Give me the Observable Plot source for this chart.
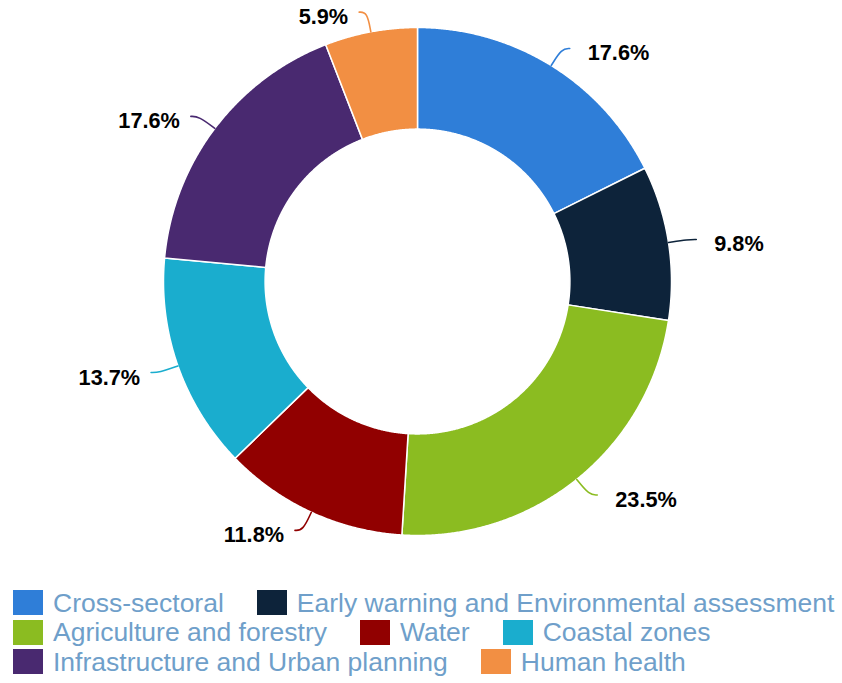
<!DOCTYPE html>
<html><head><meta charset="utf-8">
<script src="https://cdn.jsdelivr.net/npm/d3@7"></script>
<script src="https://cdn.jsdelivr.net/npm/@observablehq/plot@0.6"></script>
<style>
body{margin:0;background:#fff;font-family:"Liberation Sans",Arial,sans-serif;}
#chart svg{display:block;}
#legend{margin-top:18px;padding-left:13px;}
.row{display:flex;align-items:center;height:29.5px;}
.item{display:flex;align-items:center;margin-right:33px;}
.sw{width:30px;height:25px;margin-right:10px;flex:none;}
.lt{font-size:26.5px;color:#6f9fca;white-space:nowrap;line-height:1;}
</style></head><body><div id="chart"></div><div id="legend"></div>
<script>
const categories = ["Cross-sectoral","Early warning and Environmental assessment","Agriculture and forestry","Water","Coastal zones","Infrastructure and Urban planning","Human health"];
const counts = [9,5,12,6,7,9,3];
const colors = ["#2f7ed8","#0d233a","#8bbc21","#910000","#1aadce","#492970","#f28f43"];
const legendRows = [[0,1],[2,3,4],[5,6]];

const W=842,H=570,CX=417,CY=281,R=254,INNER=0.6;
const total=d3.sum(counts);
const arcs=d3.pie().sort(null)(counts);
const pt=(a,r)=>({x:r*Math.sin(a),y:r*Math.cos(a)});

const slicePts=[];
const connPts=[];
const labelsR=[],labelsL=[];
arcs.forEach((arc,i)=>{
  const name=categories[i];
  const a0=arc.startAngle,a1=arc.endAngle;
  const n=Math.max(2,Math.ceil((a1-a0)/0.005));
  for(let k=0;k<=n;k++){const p=pt(a0+(a1-a0)*k/n,1);slicePts.push({name,...p});}
  for(let k=n;k>=0;k--){const p=pt(a0+(a1-a0)*k/n,INNER);slicePts.push({name,...p});}
  const f=pt(a0,1);slicePts.push({name,...f});
  const a=(a0+a1)/2,side=Math.sin(a)>=0?1:-1;
  const e=pt(a,1),el=pt(a,1+20/R),end={x:el.x+side*8/R,y:el.y};
  connPts.push({name,...e},{name,...el},{name,...end});
  const lab={name,x:end.x+side*(side>0?18:11)/R,y:end.y-5/R,text:(arc.data/total*100).toFixed(1)+"%"};
  (side>0?labelsR:labelsL).push(lab);
});

const txt={x:"x",y:"y",text:"text",fontSize:21.7,fontWeight:"bold",fill:"#000",lineAnchor:"middle"};
const chart=Plot.plot({
  width:W,height:H,margin:0,
  style:{fontFamily:"'Liberation Sans',Arial,sans-serif",background:"#fff"},
  x:{domain:[-1,1],range:[CX-R,CX+R],axis:null},
  y:{domain:[-1,1],range:[CY+R,CY-R],axis:null},
  color:{domain:categories,range:colors},
  marks:[
    Plot.line(slicePts,{x:"x",y:"y",z:"name",fill:"name",stroke:"white",strokeWidth:1.5,strokeLinejoin:"round"}),
    Plot.line(connPts,{x:"x",y:"y",z:"name",stroke:"name",strokeWidth:1.6,curve:"basis"}),
    Plot.text(labelsR,{...txt,textAnchor:"start"}),
    Plot.text(labelsL,{...txt,textAnchor:"end"})
  ]
});
document.getElementById("chart").append(chart);

const leg=document.getElementById("legend");
legendRows.forEach(row=>{
  const r=document.createElement("div");r.className="row";
  row.forEach(i=>{
    const it=document.createElement("div");it.className="item";
    const sw=document.createElement("div");sw.className="sw";sw.style.background=colors[i];
    const t=document.createElement("span");t.className="lt";t.textContent=categories[i];
    it.append(sw,t);r.append(it);
  });
  leg.append(r);
});
</script></body></html>
